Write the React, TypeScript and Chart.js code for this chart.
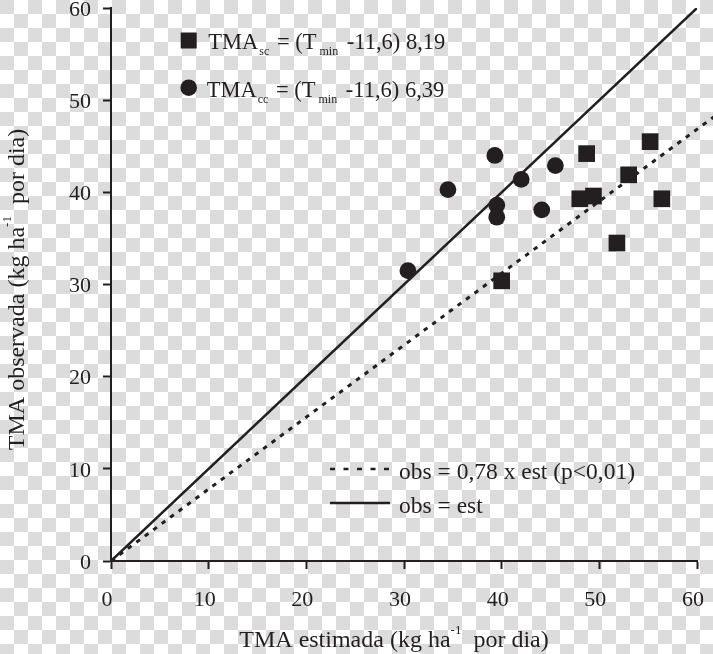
import React, { useEffect, useRef } from 'react';
import { Chart, registerables } from 'chart.js';

Chart.register(...registerables);

// ---- data ----
const axisMin = 0;
const axisMax = 60;
const tickStep = 10;

// TMA_sc (squares): estimated vs observed
const scEstimated = [48.7, 55.2, 53.0, 48.0, 49.4, 56.4, 51.8, 40.0];
const scObserved = [44.2, 45.5, 41.9, 39.3, 39.6, 39.3, 34.5, 30.4];

// TMA_cc (circles): estimated vs observed
const ccEstimated = [34.5, 39.3, 42.0, 45.5, 39.5, 39.5, 44.1, 30.4];
const ccObserved = [40.3, 44.0, 41.4, 42.9, 38.6, 37.3, 38.1, 31.5];

// reference lines (end points)
const identityX = [0, 60];
const identityY = [0, 60];
const regressionX = [0, 62];
const regressionY = [0, 48.4];

const legendSc = ['TMA', 'sc', ' = (T', 'min', ' -11,6) 8,19'];
const legendCc = ['TMA', 'cc', ' = (T', 'min', ' -11,6) 6,39'];
const legendRegression = 'obs = 0,78 x est (p<0,01)';
const legendIdentity = 'obs = est';
const xTitle = ['TMA estimada (kg ha', '-1', '  por dia)'];
const yTitle = ['TMA observada (kg ha', '-1', '  por dia)'];

const INK = '#231f20';
const FONT = '"Liberation Serif", "Times New Roman", serif';

type Seg = { t: string; size: number; dy: number; pad?: number };

function richWidth(ctx: CanvasRenderingContext2D, segs: Seg[]) {
  let w = 0;
  for (const s of segs) {
    ctx.font = `${s.size}px ${FONT}`;
    w += (s.pad || 0) + ctx.measureText(s.t).width;
  }
  return w;
}

function drawRich(ctx: CanvasRenderingContext2D, segs: Seg[], x: number, y: number) {
  let cx = x;
  for (const s of segs) {
    cx += s.pad || 0;
    ctx.font = `${s.size}px ${FONT}`;
    ctx.fillText(s.t, cx, y + s.dy);
    cx += ctx.measureText(s.t).width;
  }
}

function legendSegs(parts: string[]): Seg[] {
  return [
    { t: parts[0], size: 22.5, dy: 0 },
    { t: parts[1], size: 12, dy: 6, pad: 1 },
    { t: parts[2], size: 22.5, dy: 0, pad: 2 },
    { t: parts[3], size: 12, dy: 6, pad: 3 },
    { t: parts[4], size: 22.5, dy: 0, pad: 3 },
  ];
}

function titleSegs(parts: string[]): Seg[] {
  return [
    { t: parts[0], size: 24, dy: 0 },
    { t: parts[1], size: 13, dy: -13 },
    { t: parts[2], size: 24, dy: 0 },
  ];
}

const decorPlugin = {
  id: 'decor',
  beforeDraw(chart: any) {
    const ctx: CanvasRenderingContext2D = chart.ctx;
    const W = chart.width;
    const H = chart.height;
    const cell = 14;
    ctx.save();
    ctx.fillStyle = '#ffffff';
    ctx.fillRect(0, 0, W, H);
    ctx.fillStyle = '#dcdcdc';
    for (let r = 0; r * cell < H; r++) {
      for (let c = 0; c * cell < W; c++) {
        if ((r + c) % 2 === 0) ctx.fillRect(c * cell, r * cell, cell, cell);
      }
    }
    ctx.restore();
  },
  afterDraw(chart: any) {
    const ctx: CanvasRenderingContext2D = chart.ctx;
    ctx.save();
    ctx.fillStyle = INK;
    ctx.strokeStyle = INK;
    ctx.textBaseline = 'alphabetic';
    ctx.textAlign = 'left';

    // top legend markers
    ctx.fillRect(180.7, 32.5, 16, 16);
    ctx.beginPath();
    ctx.arc(188.7, 87.7, 8.3, 0, Math.PI * 2);
    ctx.fill();
    drawRich(ctx, legendSegs(legendSc), 208.3, 48.5);
    drawRich(ctx, legendSegs(legendCc), 206.7, 96.7);

    // bottom legend
    ctx.lineWidth = 2.5;
    ctx.setLineDash([5, 8.5]);
    ctx.beginPath();
    ctx.moveTo(330, 469);
    ctx.lineTo(391, 469);
    ctx.stroke();
    ctx.setLineDash([]);
    ctx.beginPath();
    ctx.moveTo(330, 503);
    ctx.lineTo(390, 503);
    ctx.stroke();
    ctx.font = `23.5px ${FONT}`;
    ctx.fillText(legendRegression, 399, 479.3);
    ctx.fillText(legendIdentity, 399, 512.7);

    // axis titles
    const area = chart.chartArea;
    const xs = titleSegs(xTitle);
    const xw = richWidth(ctx, xs);
    drawRich(ctx, xs, (area.left + area.right) / 2 - 10 - xw / 2, 646.7);

    const ys = titleSegs(yTitle);
    const yw = richWidth(ctx, ys);
    ctx.translate(24, 289.5);
    ctx.rotate(-Math.PI / 2);
    drawRich(ctx, ys, -yw / 2, 0);
    ctx.restore();
  },
};

export default function App() {
  const ref = useRef<HTMLCanvasElement | null>(null);

  useEffect(() => {
    document.body.style.margin = '0';
    const canvas = ref.current;
    if (!canvas) return;

    const scPts = scEstimated.map((x, i) => ({ x, y: scObserved[i] }));
    const ccPts = ccEstimated.map((x, i) => ({ x, y: ccObserved[i] }));
    const idPts = identityX.map((x, i) => ({ x, y: identityY[i] }));
    const regPts = regressionX.map((x, i) => ({ x, y: regressionY[i] }));

    const scaleCommon = (axis: 'x' | 'y') => ({
      type: 'linear' as const,
      min: axisMin,
      max: axisMax,
      ticks: {
        stepSize: tickStep,
        color: INK,
        font: { family: FONT, size: 22 },
        padding: axis === 'x' ? 18 : 12,
        labelOffset: axis === 'x' ? -4 : 2,
      },
      grid: {
        display: true,
        drawOnChartArea: false,
        drawTicks: true,
        tickLength: 8,
        tickWidth: 2,
        tickColor: INK,
        color: INK,
      },
      border: { display: true, color: INK, width: 2 },
      title: { display: false },
      afterFit: (s: any) => {
        if (axis === 'x') {
          s.height = 93;
          s.paddingLeft = 0;
          s.paddingRight = 0;
        } else {
          s.width = 111;
          s.paddingTop = 0;
          s.paddingBottom = 0;
        }
      },
    });

    const chart = new Chart(canvas, {
      type: 'scatter',
      data: {
        datasets: [
          {
            label: 'TMA sc',
            data: scPts,
            pointStyle: 'rect',
            pointRadius: 11.8,
            pointHoverRadius: 11.8,
            backgroundColor: INK,
            borderWidth: 0,
          },
          {
            label: 'TMA cc',
            data: ccPts,
            pointStyle: 'circle',
            pointRadius: 8.4,
            pointHoverRadius: 8.4,
            backgroundColor: INK,
            borderWidth: 0,
          },
          {
            label: 'obs = est',
            data: idPts,
            showLine: true,
            pointRadius: 0,
            borderColor: INK,
            borderWidth: 2.5,
            fill: false,
          },
          {
            label: 'obs = 0,78 x est',
            data: regPts,
            showLine: true,
            pointRadius: 0,
            borderColor: INK,
            borderWidth: 3,
            borderDash: [4.5, 6],
            fill: false,
            clip: false,
          } as any,
        ],
      },
      options: {
        responsive: false,
        animation: false,
        devicePixelRatio: 1,
        layout: { autoPadding: false, padding: { left: 0, right: 16, top: 8, bottom: 0 } },
        plugins: {
          legend: { display: false },
          tooltip: { enabled: false },
          title: { display: false },
        },
        scales: {
          x: scaleCommon('x') as any,
          y: scaleCommon('y') as any,
        },
      },
      plugins: [decorPlugin],
    });

    return () => chart.destroy();
  }, []);

  return (
    <div style={{ position: 'absolute', left: 0, top: 0, width: 713, height: 654 }}>
      <canvas ref={ref} width={713} height={654} style={{ display: 'block' }} />
    </div>
  );
}
